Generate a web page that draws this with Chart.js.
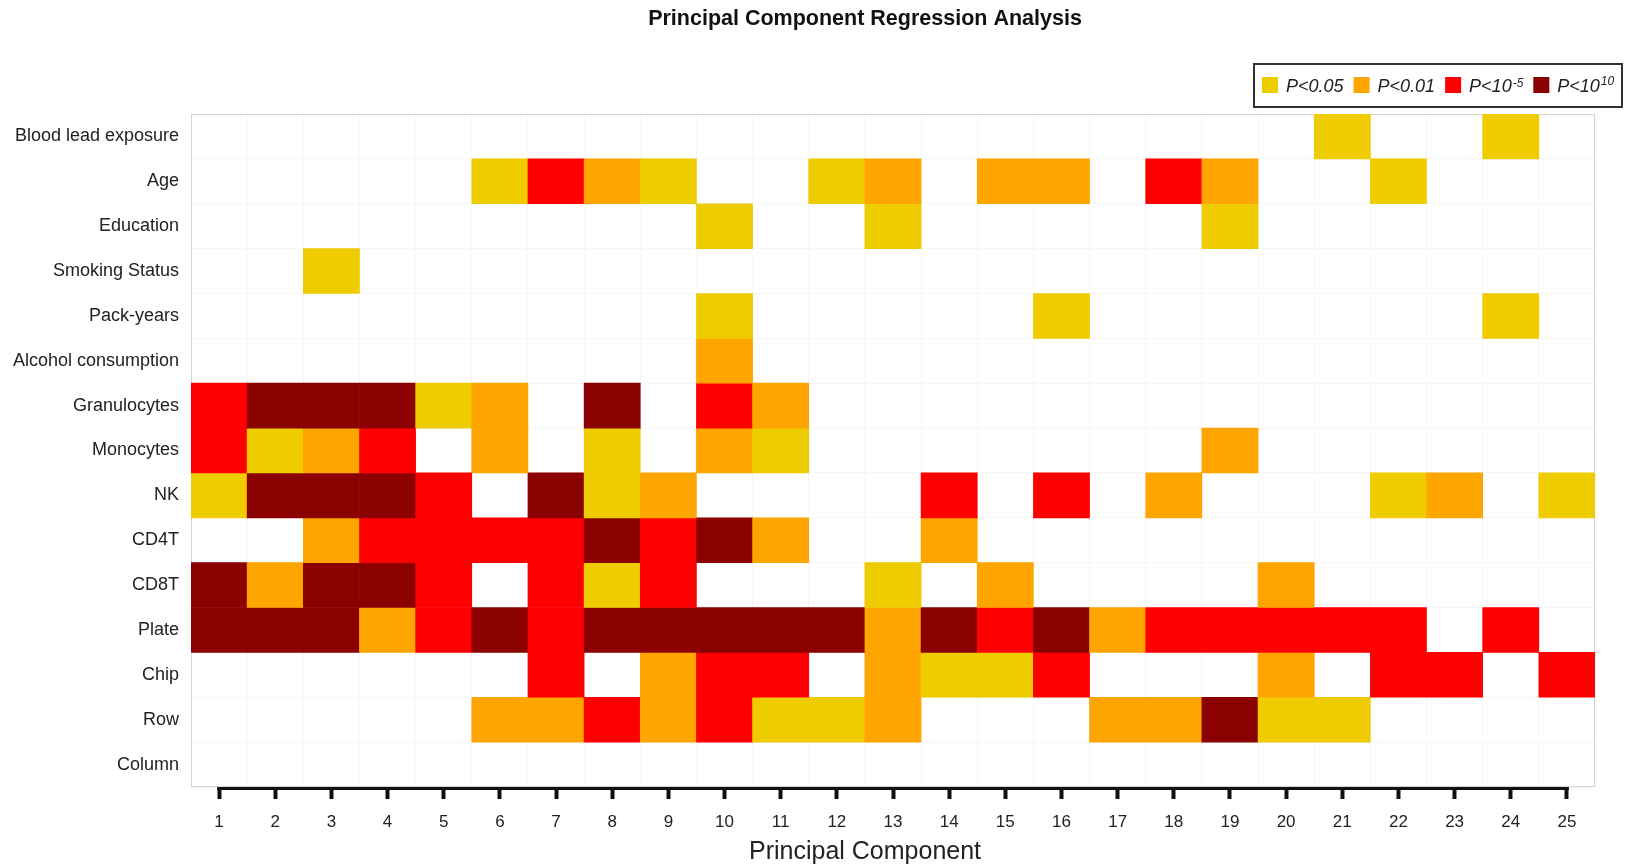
<!DOCTYPE html>
<html><head><meta charset="utf-8">
<script src="https://cdn.jsdelivr.net/npm/chart.js@4.4.0/dist/chart.umd.min.js"></script>
<style>html,body{margin:0;padding:0;background:#fff;} #wrap{width:1627px;height:867px;position:relative;}</style>
</head><body><div id="wrap"><canvas id="c"></canvas></div>
<script>
const components = ['1','2','3','4','5','6','7','8','9','10','11','12','13','14','15','16','17','18','19','20','21','22','23','24','25'];
const variables = ['Blood lead exposure','Age','Education','Smoking Status','Pack-years','Alcohol consumption','Granulocytes','Monocytes','NK','CD4T','CD8T','Plate','Chip','Row','Column'];
const levelLabels = [['P<0.05',''],['P<0.01',''],['P<10','-5'],['P<10','10']];
const levelColors = ['#EECC00','#FFA500','#FF0000','#8B0000'];
// significance level per principal component: 0 = n.s., 1 = P<0.05, 2 = P<0.01, 3 = P<1e-5, 4 = P<1e-10
const bloodLead    = [0,0,0,0,0, 0,0,0,0,0, 0,0,0,0,0, 0,0,0,0,0, 1,0,0,1,0];
const age          = [0,0,0,0,0, 1,3,2,1,0, 0,1,2,0,2, 2,0,3,2,0, 0,1,0,0,0];
const education    = [0,0,0,0,0, 0,0,0,0,1, 0,0,1,0,0, 0,0,0,1,0, 0,0,0,0,0];
const smoking      = [0,0,1,0,0, 0,0,0,0,0, 0,0,0,0,0, 0,0,0,0,0, 0,0,0,0,0];
const packYears    = [0,0,0,0,0, 0,0,0,0,1, 0,0,0,0,0, 1,0,0,0,0, 0,0,0,1,0];
const alcohol      = [0,0,0,0,0, 0,0,0,0,2, 0,0,0,0,0, 0,0,0,0,0, 0,0,0,0,0];
const granulocytes = [3,4,4,4,1, 2,0,4,0,3, 2,0,0,0,0, 0,0,0,0,0, 0,0,0,0,0];
const monocytes    = [3,1,2,3,0, 2,0,1,0,2, 1,0,0,0,0, 0,0,0,2,0, 0,0,0,0,0];
const nk           = [1,4,4,4,3, 0,4,1,2,0, 0,0,0,3,0, 3,0,2,0,0, 0,1,2,0,1];
const cd4t         = [0,0,2,3,3, 3,3,4,3,4, 2,0,0,2,0, 0,0,0,0,0, 0,0,0,0,0];
const cd8t         = [4,2,4,4,3, 0,3,1,3,0, 0,0,1,0,2, 0,0,0,0,2, 0,0,0,0,0];
const plate        = [4,4,4,2,3, 4,3,4,4,4, 4,4,2,4,3, 4,2,3,3,3, 3,3,0,3,0];
const chip         = [0,0,0,0,0, 0,3,0,2,3, 3,0,2,1,1, 3,0,0,0,2, 0,3,3,0,3];
const row          = [0,0,0,0,0, 2,2,3,2,3, 1,1,2,0,0, 0,2,2,4,1, 1,0,0,0,0];
const column       = [0,0,0,0,0, 0,0,0,0,0, 0,0,0,0,0, 0,0,0,0,0, 0,0,0,0,0];
const levels = [bloodLead, age, education, smoking, packYears, alcohol, granulocytes, monocytes, nk, cd4t, cd8t, plate, chip, row, column];

const FONT = "'Liberation Sans', Arial, Helvetica, sans-serif";

const datasets = variables.map((name, i) => ({
  label: name,
  data: levels[i].map(l => l ? [i, i + 1] : null),
  backgroundColor: levels[i].map(l => l ? levelColors[l - 1] : 'rgba(0,0,0,0)'),
  borderWidth: 0,
  barPercentage: 1,
  categoryPercentage: 1,
  grouped: false
}));

const decor = {
  id: 'decor',
  beforeDatasetsDraw(chart) {
    const {ctx, chartArea: a} = chart;
    ctx.save();
    ctx.strokeStyle = '#d4d4d4';
    ctx.lineWidth = 1;
    ctx.strokeRect(a.left + 0.5, a.top + 0.5, a.right - a.left - 1, a.bottom - a.top - 1);
    ctx.restore();
  },
  afterDraw(chart) {
    const {ctx, chartArea: a} = chart;
    const xs = chart.scales.x;
    ctx.save();
    // x axis line from first to last tick
    ctx.strokeStyle = '#111';
    ctx.lineWidth = 3;
    ctx.beginPath();
    ctx.moveTo(xs.getPixelForTick(0) - 2, a.bottom + 1.5);
    ctx.lineTo(xs.getPixelForTick(components.length - 1) + 2, a.bottom + 1.5);
    ctx.stroke();
    // title
    ctx.fillStyle = '#111';
    ctx.textAlign = 'center';
    ctx.textBaseline = 'middle';
    ctx.font = "bold 21.5px " + FONT;
    ctx.fillText('Principal Component Regression Analysis', 865, 19);
    // x title
    ctx.fillStyle = '#222';
    ctx.font = "25px " + FONT;
    ctx.fillText('Principal Component', 865, 852);
    // legend
    ctx.textAlign = 'left';
    ctx.textBaseline = 'alphabetic';
    let x = 1262;
    const base = 92;
    levelLabels.forEach((lab, k) => {
      ctx.fillStyle = levelColors[k];
      ctx.fillRect(x, 77, 16, 16);
      x += 24;
      ctx.fillStyle = '#222';
      ctx.font = "italic 18px " + FONT;
      ctx.fillText(lab[0], x, base);
      x += ctx.measureText(lab[0]).width;
      if (lab[1]) {
        ctx.font = "italic 12px " + FONT;
        ctx.fillText(lab[1], x + 1, base - (lab[1] === '10' ? 7 : 5));
        x += ctx.measureText(lab[1]).width + 1;
      }
      x += 10;
    });
    ctx.strokeStyle = '#333';
    ctx.lineWidth = 2;
    ctx.strokeRect(1254, 64, 368, 43);
    ctx.restore();
  }
};

new Chart(document.getElementById('c'), {
  type: 'bar',
  data: { labels: components, datasets },
  options: {
    responsive: true,
    maintainAspectRatio: false,
    animation: false,
    layout: { padding: { top: 114, right: 32, bottom: 0, left: 0 } },
    plugins: { legend: { display: false }, title: { display: false }, tooltip: { enabled: false } },
    scales: {
      x: {
        type: 'category',
        offset: true,
        grid: { display: true, drawOnChartArea: false, drawTicks: true, tickLength: 12, tickWidth: 4, tickColor: '#111', offset: false },
        border: { display: false },
        ticks: { color: '#222', font: { family: FONT, size: 17 }, padding: 13, maxRotation: 0, autoSkip: false },
        afterFit(s) { s.height = 80; }
      },
      x2: {
        type: 'category',
        labels: components,
        offset: true,
        position: 'bottom',
        grid: { display: true, drawOnChartArea: true, drawTicks: false, color: '#f7f7f7', offset: true },
        border: { display: false },
        ticks: { display: false },
        afterFit(s) { s.height = 0; }
      },
      y: {
        type: 'linear',
        min: 0, max: variables.length,
        reverse: true,
        grid: { display: false },
        border: { display: false },
        afterBuildTicks(s) { s.ticks = variables.map((_, i) => ({ value: i + 0.5 })); },
        ticks: {
          color: '#222', font: { family: FONT, size: 18 }, padding: 4,
          callback: (v, i) => variables[i]
        },
        afterFit(s) { s.width = 191; }
      },
      y2: {
        type: 'linear',
        min: 0, max: variables.length,
        reverse: true,
        position: 'right',
        grid: { display: true, drawOnChartArea: true, drawTicks: false, color: '#f7f7f7' },
        border: { display: false },
        ticks: { display: false, stepSize: 1 },
        afterFit(s) { s.width = 0; }
      }
    }
  },
  plugins: [decor]
});
</script>
</body></html>
